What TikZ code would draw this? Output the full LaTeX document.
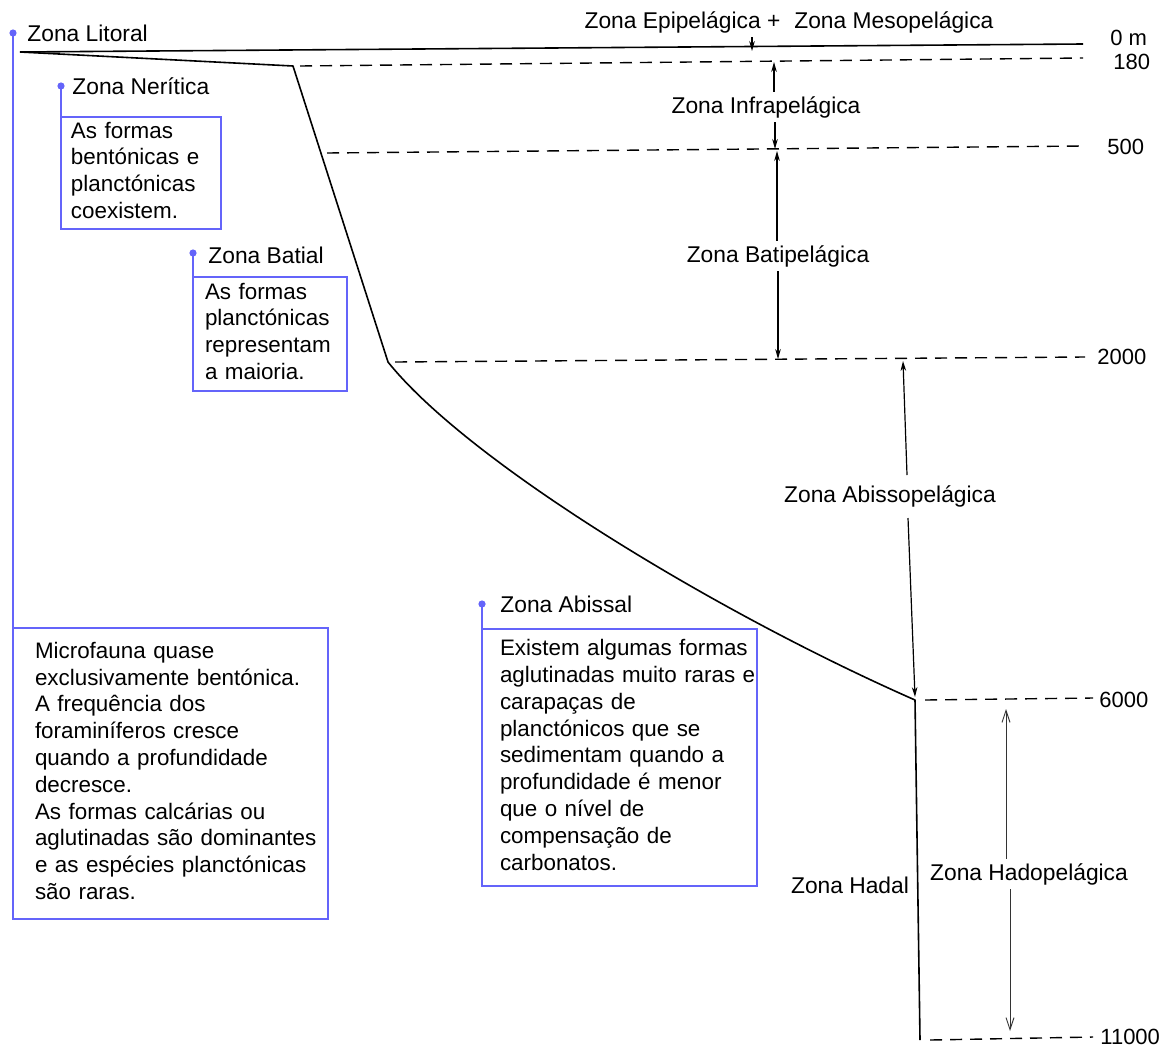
\documentclass[tikz,border=0pt]{standalone}
\usepackage{fontspec}
\setmainfont{Liberation Sans}
\usetikzlibrary{arrows.meta}
\definecolor{annot}{RGB}{100,100,250}
\begin{document}
\begin{tikzpicture}[x=0.5pt,y=-0.5pt,
  lab/.style={font=\fontsize{11.4}{13.4}\selectfont, inner sep=2pt},
  zlab/.style={lab, anchor=west},
  depth/.style={font=\fontsize{11}{13}\selectfont, inner sep=0pt, anchor=west},
  box/.style={draw=annot, line width=1pt, anchor=north west, inner sep=0pt, outer sep=0pt,
              font=\fontsize{11.2}{13.4}\selectfont, align=left},
  aline/.style={draw=annot, line width=1pt},
  profile/.style={line width=0.8pt, line join=round},
  levelline/.style={line width=0.7pt, dash pattern=on 6pt off 4pt},
  arr/.style={line width=0.6pt, -{Stealth[length=5pt,width=2.8pt]}},
  harr/.style={line width=0.45pt, black!80, -{Straight Barb[length=6pt,width=4pt]}}
]
\useasboundingbox[fill=white] (0,0) rectangle (1165,1049);

% ---------- profile ----------
\coordinate (s0) at (20,52);
\coordinate (sR) at (1083,44);
\coordinate (s1) at (293,66);
\coordinate (s2) at (388,362);
\coordinate (s3) at (915,700);
\coordinate (s4) at (920,1040);
\draw[profile] (s0) -- (sR);
\draw[profile] (s0) -- (s1) -- (s2) .. controls (468,462) and (715,612) .. (s3) -- (s4);

% ---------- depth lines ----------
\coordinate (l180a) at (300,66);   \coordinate (l180b) at (1083,58);
\coordinate (l500a) at (327,153);  \coordinate (l500b) at (1083,146);
\coordinate (l2000a) at (395,362); \coordinate (l2000b) at (1085,357);
\coordinate (l6000a) at (925,700); \coordinate (l6000b) at (1093,698);
\coordinate (l11000a) at (930,1040); \coordinate (l11000b) at (1093,1037);
\draw[levelline] (l180a) -- (l180b);
\draw[levelline] (l500a) -- (l500b);
\draw[levelline] (l2000a) -- (l2000b);
\draw[levelline] (l6000a) -- (l6000b);
\draw[levelline] (l11000a) -- (l11000b);

% ---------- depth labels ----------
\node[depth] (d0) at (1110,38) {0 m};
\node[depth] (d180) at (1113,62) {180};
\node[depth] (d500) at (1107,147) {500};
\node[depth] (d2000) at (1097,357) {2000};
\node[depth] (d6000) at (1099,700) {6000};
\node[depth] (d11000) at (1100,1037) {11000};

% ---------- pelagic zones ----------
\node[lab] (epi) at (789,22) {Zona Epipelágica +\hspace{7pt}Zona Mesopelágica};
\coordinate (tEpi) at (752,51);
\draw[arr] (epi.south -| tEpi) -- (tEpi);

\node[lab] (infra) at (766,107) {Zona Infrapelágica};
\coordinate (tI1) at (774,62);
\coordinate (tI2) at (775,149);
\draw[arr] (infra.north -| tI1) -- (tI1);
\draw[arr] (infra.south -| tI2) -- (tI2);

\node[lab] (bati) at (778,256) {Zona Batipelágica};
\coordinate (tB1) at (777,151);
\coordinate (tB2) at (778,359);
\draw[arr] (bati.north -| tB1) -- (tB1);
\draw[arr] (bati.south -| tB2) -- (tB2);

\node[lab] (abisso) at (890,496) {Zona Abissopelágica};
\coordinate (aA1) at (907,475);  \coordinate (tA1) at (903,361);
\coordinate (aA2) at (908,518);  \coordinate (tA2) at (915,697);
\draw[arr] (aA1) -- (tA1);
\draw[arr] (aA2) -- (tA2);

\node[lab] (hado) at (1029,874) {Zona Hadopelágica};
\coordinate (tH1) at (1006,709);
\coordinate (tH2) at (1010,1031);
\draw[harr] (hado.north -| tH1) -- (tH1);
\draw[harr] (hado.south -| tH2) -- (tH2);

\node[lab] (hadal) at (850,885) {Zona Hadal};

% ---------- annotation boxes ----------
\coordinate (dL) at (13,33);
\coordinate (dN) at (61,86);
\coordinate (dB) at (193,253);
\coordinate (dA) at (482,604);

\node[zlab] (litoral) at (23,33) {Zona Litoral};
\node[zlab] (neritica) at (68,86) {Zona Nerítica};
\node[zlab] (batial) at (204,255) {Zona Batial};
\node[zlab] (abissal) at (496,604) {Zona Abissal};

\node[box, text width=157.5pt, minimum height=145.5pt] (bigbox) at (13,628)
  {\begin{tabular}{@{\hspace{11pt}}l@{}}
   Microfauna quase\\
   exclusivamente bentónica.\\
   A frequência dos\\
   foraminíferos cresce\\
   quando a profundidade\\
   decresce.\\
   As formas calcárias ou\\
   aglutinadas são dominantes\\
   e as espécies planctónicas\\
   são raras.
   \end{tabular}};

\node[box, text width=80pt, minimum height=56pt] (nerbox) at (61,117)
  {\begin{tabular}{@{\hspace{5pt}}l@{}}
   As formas\\
   bentónicas e\\
   planctónicas\\
   coexistem.
   \end{tabular}};

\node[box, text width=77pt, minimum height=57pt] (batbox) at (193,277)
  {\begin{tabular}{@{\hspace{6pt}}l@{}}
   As formas\\
   planctónicas\\
   representam\\
   a maioria.
   \end{tabular}};

\node[box, text width=137.5pt, minimum height=128.5pt] (abibox) at (482,629)
  {\begin{tabular}{@{\hspace{9pt}}l@{}}
   Existem algumas formas\\
   aglutinadas muito raras e\\
   carapaças de\\
   planctónicos que se\\
   sedimentam quando a\\
   profundidade é menor\\
   que o nível de\\
   compensação de\\
   carbonatos.
   \end{tabular}};

\draw[aline] (dL) -- (bigbox.north west);
\draw[aline] (dN) -- (nerbox.north west);
\draw[aline] (dB) -- (batbox.north west);
\draw[aline] (dA) -- (abibox.north west);
\foreach \d in {dL,dN,dB,dA} \fill[annot] (\d) circle (1.8pt);

\end{tikzpicture}
\end{document}
